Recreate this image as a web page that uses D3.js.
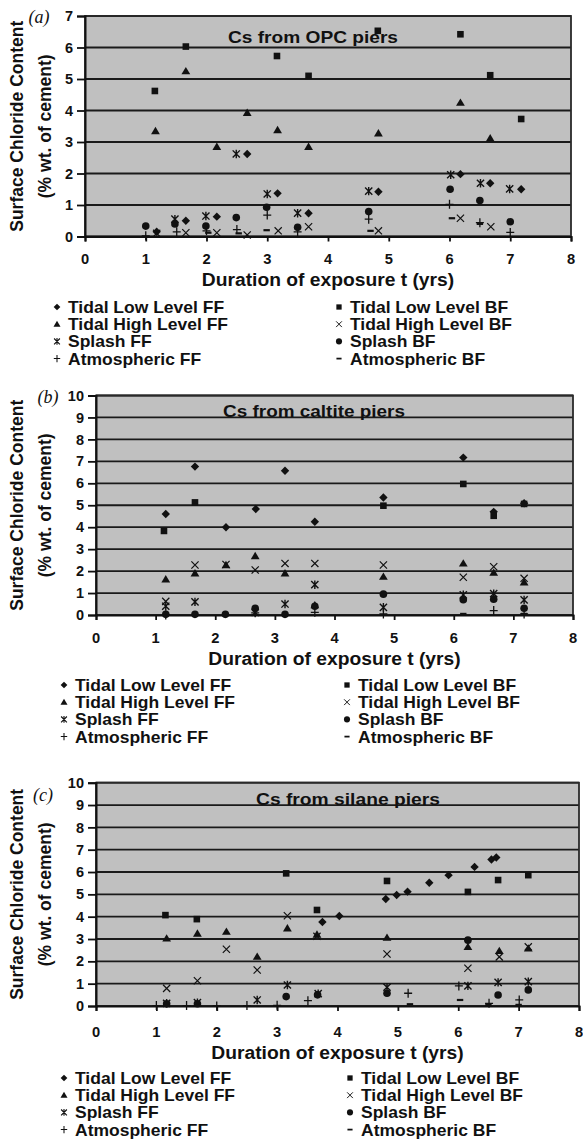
<!DOCTYPE html>
<html>
<head>
<meta charset="utf-8">
<script src="https://cdn.jsdelivr.net/npm/d3@7"></script>
<style>
  body { margin: 0; background: #fff; }
  svg text { font-family: "Liberation Sans", Arial, sans-serif; font-weight: bold; fill: #111; }
</style>
</head>
<body>
<svg id="chart"></svg>
<script>
const d3 = window.d3

// legend entries, same for every panel (left column, then right column)
const seriesNames = ['Tidal Low Level FF', 'Tidal Low Level BF', 'Tidal High Level FF', 'Tidal High Level BF',
  'Splash FF', 'Splash BF', 'Atmospheric FF', 'Atmospheric BF']
const seriesShapes = ['diamond', 'square', 'triangle', 'cross', 'star', 'circle', 'plus', 'dash']
const xTicks = [0, 1, 2, 3, 4, 5, 6, 7, 8]

// (a) OPC piers, [t yrs, Cs %]
const opcTidalLowFF = [[1.18, 0.15], [1.66, 0.5], [2.17, 0.63], [2.67, 2.62], [3.17, 1.37], [3.68, 0.74], [4.83, 1.42], [6.18, 1.98], [6.67, 1.69], [7.18, 1.5]]
const opcTidalLowBF = [[1.15, 4.62], [1.66, 6.03], [3.16, 5.73], [3.68, 5.1], [4.82, 6.53], [6.18, 6.42], [6.67, 5.12], [7.18, 3.73]]
const opcTidalHighFF = [[1.16, 3.35], [1.66, 5.25], [2.17, 2.85], [2.67, 3.93], [3.17, 3.38], [3.68, 2.85], [4.83, 3.28], [6.18, 4.25], [6.67, 3.12]]
const opcTidalHighBF = [[1.18, 0.1], [1.66, 0.12], [2.17, 0.12], [2.67, 0.05], [3.18, 0.18], [3.68, 0.31], [4.83, 0.18], [6.18, 0.58], [6.68, 0.31]]
const opcSplashFF = [[1.48, 0.55], [1.99, 0.65], [2.49, 2.62], [3.0, 1.35], [3.5, 0.74], [4.67, 1.44], [6.02, 1.96], [6.51, 1.69], [6.99, 1.51]]
const opcSplashBF = [[1.0, 0.33], [1.48, 0.4], [1.99, 0.33], [2.49, 0.6], [2.99, 0.93], [3.5, 0.29], [4.67, 0.79], [6.01, 1.5], [6.5, 1.14], [7.0, 0.47]]
const opcAtmosFF = [[1.0, 0.02], [1.51, 0.15], [2.0, 0.18], [2.5, 0.22], [3.0, 0.68], [3.5, 0.15], [4.67, 0.55], [6.0, 1.02], [6.5, 0.44], [7.0, 0.13]]
const opcAtmosBF = [[2.03, 0.12], [2.53, 0.1], [2.99, 0.2], [4.7, 0.18], [6.04, 0.58], [6.5, 0.4]]

// (b) caltite piers
const calTidalLowFF = [[1.17, 4.6], [1.66, 6.76], [2.18, 4.0], [2.68, 4.83], [3.17, 6.57], [3.67, 4.25], [4.82, 5.35], [6.16, 7.17], [6.67, 4.7], [7.18, 5.09]]
const calTidalLowBF = [[1.14, 3.83], [1.66, 5.13], [4.82, 4.98], [6.16, 5.97], [6.67, 4.52], [7.18, 5.06]]
const calTidalHighFF = [[1.17, 1.63], [1.66, 1.9], [2.18, 2.28], [2.67, 2.69], [3.17, 1.9], [3.67, 0.45], [4.82, 1.75], [6.16, 2.35], [6.67, 1.93], [7.18, 1.49]]
const calTidalHighBF = [[1.17, 0.62], [1.66, 2.28], [2.18, 2.3], [2.67, 2.05], [3.17, 2.35], [3.67, 2.35], [4.82, 2.28], [6.16, 1.72], [6.67, 2.2], [7.18, 1.67]]
const calSplashFF = [[1.17, 0.4], [1.66, 0.6], [2.67, 0.12], [3.17, 0.5], [3.67, 1.38], [4.82, 0.35], [6.16, 0.92], [6.67, 0.97], [7.18, 0.69]]
const calSplashBF = [[1.17, 0.03], [1.66, 0.03], [2.17, 0.03], [2.67, 0.3], [3.17, 0.03], [3.67, 0.4], [4.82, 0.95], [6.16, 0.7], [6.67, 0.72], [7.18, 0.31]]
const calAtmosFF = [[1.17, 0.0], [2.67, 0.1], [3.67, 0.12], [4.82, 0.05], [6.67, 0.2], [7.18, 0.05]]
const calAtmosBF = [[6.16, 0.05], [7.18, 0.05]]

// (c) silane piers
const silTidalLowFF = [[3.75, 3.76], [4.03, 4.03], [4.8, 4.79], [4.98, 4.97], [5.16, 5.12], [5.52, 5.52], [5.84, 5.86], [6.27, 6.23], [6.55, 6.56], [6.63, 6.65]]
const silTidalLowBF = [[1.15, 4.07], [1.67, 3.89], [3.15, 5.94], [3.66, 4.3], [4.82, 5.6], [6.16, 5.11], [6.66, 5.64], [7.16, 5.86]]
const silTidalHighFF = [[1.17, 3.03], [1.68, 3.25], [2.16, 3.33], [2.67, 2.21], [3.17, 3.48], [3.66, 3.2], [4.82, 3.06], [6.16, 2.65], [6.68, 2.47], [7.16, 2.58]]
const silTidalHighBF = [[1.17, 0.79], [1.68, 1.13], [2.16, 2.54], [2.67, 1.61], [3.17, 4.04], [3.66, 3.12], [4.82, 2.33], [6.16, 1.69], [6.68, 2.2], [7.16, 2.65]]
const silSplashFF = [[1.17, 0.12], [1.68, 0.15], [2.67, 0.27], [3.17, 0.94], [3.68, 0.55], [4.82, 0.84], [6.16, 0.9], [6.66, 1.06], [7.16, 1.09]]
const silSplashBF = [[1.17, 0.1], [1.68, 0.1], [3.15, 0.42], [3.67, 0.5], [4.82, 0.57], [6.16, 2.95], [6.66, 0.49], [7.16, 0.72]]
const silAtmosFF = [[1.0, 0.02], [1.5, 0.02], [2.0, 0.0], [2.5, 0.02], [3.0, 0.03], [3.51, 0.24], [5.17, 0.57], [6.01, 0.9], [6.51, 0.12], [7.01, 0.27]]
const silAtmosBF = [[5.2, 0.08], [6.03, 0.27], [6.5, 0.05], [7.0, 0.05]]

// layout of the three panels, pixels
const panels = [
  { letter: '(a)', title: 'Cs from OPC piers', yMax: 7,
    series: [opcTidalLowFF, opcTidalLowBF, opcTidalHighFF, opcTidalHighBF, opcSplashFF, opcSplashBF, opcAtmosFF, opcAtmosBF],
    left: 85, right: 571, top: 16, bottom: 236.5, letterX: 39, letterY: 23, titleX: 228, titleY: 43, titleW: 170,
    xLabelY: 264, xTitleY: 286, legendY: 307, legendLeft: 57, legendRight: 339, yTitleX: 17 },
  { letter: '(b)', title: 'Cs from caltite piers', yMax: 10,
    series: [calTidalLowFF, calTidalLowBF, calTidalHighFF, calTidalHighBF, calSplashFF, calSplashBF, calAtmosFF, calAtmosBF],
    left: 96, right: 573, top: 395.5, bottom: 615, letterX: 48, letterY: 403, titleX: 223, titleY: 417, titleW: 182,
    xLabelY: 643, xTitleY: 665, legendY: 685, legendLeft: 64, legendRight: 347, yTitleX: 17 },
  { letter: '(c)', title: 'Cs from silane piers', yMax: 10,
    series: [silTidalLowFF, silTidalLowBF, silTidalHighFF, silTidalHighBF, silSplashFF, silSplashBF, silAtmosFF, silAtmosBF],
    left: 96, right: 579, top: 782.7, bottom: 1006, letterX: 43, letterY: 801, titleX: 256, titleY: 805, titleW: 184,
    xLabelY: 1037, xTitleY: 1059, legendY: 1078, legendLeft: 64, legendRight: 350, yTitleX: 17 }
]

const W = 583
const H = 1142
const legendStep = 17.2

const svg = d3.select('#chart').attr('width', W).attr('height', H)

function marker (g, shape) {
  const ink = '#111'
  if (shape === 'diamond') return g.append('path').attr('d', 'M0,-4.2L4.2,0L0,4.2L-4.2,0Z').attr('fill', ink)
  if (shape === 'square') return g.append('rect').attr('x', -3.3).attr('y', -3.3).attr('width', 6.6).attr('height', 6.6).attr('fill', ink)
  if (shape === 'triangle') return g.append('path').attr('d', 'M0,-4.2L4.4,3.2L-4.4,3.2Z').attr('fill', ink)
  if (shape === 'circle') return g.append('circle').attr('r', 3.8).attr('fill', ink)
  if (shape === 'cross') return g.append('path').attr('d', 'M-3.6,-3.6L3.6,3.6M-3.6,3.6L3.6,-3.6').attr('stroke', ink).attr('stroke-width', 1.2)
  if (shape === 'star') return g.append('path').attr('d', 'M-3.6,-3.6L3.6,3.6M-3.6,3.6L3.6,-3.6M0,-4.2L0,4.2').attr('stroke', ink).attr('stroke-width', 1.4)
  if (shape === 'plus') return g.append('path').attr('d', 'M-4,0H4M0,-4.5V4.5').attr('stroke', ink).attr('stroke-width', 1.3)
  return g.append('path').attr('d', 'M-3.2,0H3.2').attr('stroke', ink).attr('stroke-width', 2.2)
}

// text in the picture is a little wider than the font, so stretch it
function wideText (sel, x, y, str, size, sx, anchor) {
  return sel.append('text')
    .attr('transform', `translate(${x},${y}) scale(${sx},1)`)
    .attr('text-anchor', anchor || 'start')
    .style('font-size', size + 'px')
    .text(str)
}

panels.forEach(p => {
  const x = d3.scaleLinear().domain([0, 8]).range([p.left, p.right])
  const y = d3.scaleLinear().domain([0, p.yMax]).range([p.bottom, p.top])
  const g = svg.append('g')

  g.append('rect')
    .attr('x', p.left).attr('y', p.top)
    .attr('width', p.right - p.left).attr('height', p.bottom - p.top)
    .attr('fill', '#c0c0c0')

  const yTicks = d3.range(0, p.yMax + 1)
  g.selectAll('.grid').data(yTicks).join('line')
    .attr('x1', p.left).attr('x2', p.right)
    .attr('y1', d => y(d)).attr('y2', d => y(d))
    .attr('stroke', '#1a1a1a').attr('stroke-width', 1.8)

  g.append('rect')
    .attr('x', p.left).attr('y', p.top)
    .attr('width', p.right - p.left).attr('height', p.bottom - p.top)
    .attr('fill', 'none').attr('stroke', '#2a2a2a').attr('stroke-width', 1.8)

  // y axis
  const yAxis = g.append('g').attr('transform', `translate(${p.left},0)`)
    .call(d3.axisLeft(y).tickValues(yTicks).tickSize(8).tickPadding(4).tickFormat(d3.format('d')))
  yAxis.select('.domain').attr('stroke', '#111').attr('stroke-width', 2)
  yAxis.selectAll('.tick line').attr('stroke', '#111').attr('stroke-width', 1.8)
  yAxis.selectAll('.tick text').style('font-size', '14.5px').attr('fill', '#111')

  // x axis
  const xAxis = g.append('g').attr('transform', `translate(0,${p.bottom})`)
    .call(d3.axisBottom(x).tickValues(xTicks).tickSize(5).tickFormat(d3.format('d')))
  xAxis.select('.domain').attr('stroke', '#111').attr('stroke-width', 2)
  xAxis.selectAll('.tick line').attr('stroke', '#111').attr('stroke-width', 1.8)
  xAxis.selectAll('.tick text').remove()
  xTicks.forEach(t => wideText(g, x(t), p.xLabelY, String(t), 14, 1.05, 'middle'))

  wideText(g, (p.left + p.right) / 2, p.xTitleY, 'Duration of exposure t (yrs)', 18, 1.07, 'middle')

  g.append('text')
    .attr('x', p.titleX).attr('y', p.titleY)
    .attr('textLength', p.titleW).attr('lengthAdjust', 'spacingAndGlyphs')
    .style('font-size', '17px')
    .text(p.title)

  g.append('text')
    .attr('x', p.letterX).attr('y', p.letterY)
    .attr('text-anchor', 'middle')
    .style('font-family', '"Liberation Serif", "Times New Roman", serif')
    .style('font-style', 'italic').style('font-weight', 'normal')
    .style('font-size', '18px')
    .text(p.letter)

  // y title, two lines
  const cy = (p.top + p.bottom) / 2
  const yt = g.append('text')
    .attr('transform', `translate(${p.yTitleX + 6},${cy}) rotate(-90)`)
    .attr('text-anchor', 'middle')
    .style('font-size', '17.5px')
  yt.append('tspan').attr('x', 0).attr('dy', 0).text('Surface Chloride Content')
  yt.append('tspan').attr('x', 0).attr('dy', 28).text('(% wt. of cement)')

  // points
  p.series.forEach((pts, i) => {
    const sg = g.append('g')
    pts.forEach(d => {
      const m = sg.append('g').attr('transform', `translate(${x(d[0])},${y(d[1])})`)
      marker(m, seriesShapes[i])
    })
  })

  // legend
  seriesNames.forEach((name, i) => {
    const col = i % 2
    const row = Math.floor(i / 2)
    const mx = col === 0 ? p.legendLeft : p.legendRight
    const my = p.legendY + row * legendStep
    const m = g.append('g').attr('transform', `translate(${mx},${my}) scale(0.8)`)
    marker(m, seriesShapes[i])
    wideText(g, mx + 11, my + 6, name, 16.5, 1.06)
  })
})
</script>
</body>
</html>
